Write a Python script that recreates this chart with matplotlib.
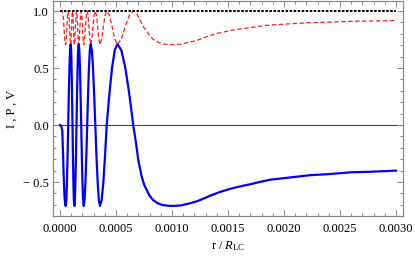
import matplotlib
matplotlib.use("Agg")
import matplotlib.pyplot as plt
from matplotlib.ticker import MultipleLocator, FuncFormatter

plt.rcParams['font.family'] = ['Liberation Serif', 'DejaVu Serif']
plt.rcParams['mathtext.fontset'] = 'custom'
plt.rcParams['mathtext.rm'] = 'Liberation Serif'
plt.rcParams['mathtext.it'] = 'Liberation Serif:italic'
plt.rcParams['lines.scale_dashes'] = False

# r / R_LC (units of 1e-6)
r_e6 = [0, 10, 20.5, 27, 33, 40, 45.5, 50.9, 56.5, 62.1, 67.6, 73.2,
        78.8, 84.4, 89.9, 95.5, 99.5, 103.6, 107.6, 111.6, 115.6, 119.7, 123.7, 127.7,
        132.6, 137.5, 142.4, 147.3, 152.2, 157.1, 162.0, 166.9, 172.5, 178.1, 183.7, 189.3,
        194.9, 200.5, 206.0, 211.6, 219.4, 227.3, 235.1, 242.9, 250.7, 258.5, 266.3, 274.1,
        284.4, 294.7, 304.9, 315.2, 325.7, 336.2, 346.6, 357.1, 372.1, 387.1, 402.0, 417.0,
        440.9, 464.8, 488.6, 512.5, 547.9, 583.3, 618.6, 654,
        679, 699, 729, 750, 774, 800, 833, 870, 908, 960, 1012, 1080, 1146, 1220, 1295,
        1339, 1420, 1518, 1600, 1696, 1780, 1875,
        2054, 2232, 2411, 2589, 2768, 3000]

# circular polarisation V
V = [0, -0.01, -0.05, -0.25, -0.45, -0.62, -0.69, -0.71, -0.656, -0.502, -0.272, 0,
     0.272, 0.502, 0.656, 0.71, 0.656, 0.502, 0.272, 0, -0.272, -0.502, -0.656, -0.71,
     -0.656, -0.502, -0.272, 0, 0.272, 0.502, 0.656, 0.71, 0.656, 0.502, 0.272, 0,
     -0.272, -0.502, -0.656, -0.71, -0.656, -0.502, -0.272, 0, 0.272, 0.502, 0.656, 0.71,
     0.656, 0.502, 0.272, 0, -0.272, -0.502, -0.656, -0.71, -0.656, -0.502, -0.272, 0,
     0.272, 0.502, 0.656, 0.71, 0.656, 0.502, 0.272, 0,
     -0.16, -0.31, -0.45, -0.52, -0.57, -0.62, -0.66, -0.685, -0.70, -0.708, -0.71, -0.705,
     -0.69, -0.67, -0.64, -0.62, -0.59, -0.56, -0.54, -0.52, -0.50, -0.48,
     -0.46, -0.44, -0.43, -0.415, -0.41, -0.40]

# linear polarisation P
P = [1.0, 1.0, 0.999, 0.968, 0.893, 0.785, 0.724, 0.704, 0.755, 0.865, 0.962, 1.0,
     0.962, 0.865, 0.755, 0.704, 0.755, 0.865, 0.962, 1.0, 0.962, 0.865, 0.755, 0.704,
     0.755, 0.865, 0.962, 1.0, 0.962, 0.865, 0.755, 0.704, 0.755, 0.865, 0.962, 1.0,
     0.962, 0.865, 0.755, 0.704, 0.755, 0.865, 0.962, 1.0, 0.962, 0.865, 0.755, 0.704,
     0.755, 0.865, 0.962, 1.0, 0.962, 0.865, 0.755, 0.704, 0.755, 0.865, 0.962, 1.0,
     0.962, 0.865, 0.755, 0.704, 0.755, 0.865, 0.962, 1.0,
     0.987, 0.951, 0.893, 0.854, 0.822, 0.785, 0.751, 0.729, 0.714, 0.706, 0.704, 0.709,
     0.724, 0.742, 0.768, 0.785, 0.807, 0.828, 0.842, 0.854, 0.866, 0.877,
     0.888, 0.898, 0.903, 0.910, 0.912, 0.917]

# total intensity I
r_I = [0.0, 0.003]
I = [1.0, 1.0]

r = [x * 1e-6 for x in r_e6]

fig = plt.figure(figsize=(4.15, 2.59), dpi=100)
ax = fig.add_axes([53 / 415, 43 / 259, 350 / 415, 215 / 259])

ax.axhline(0, color='#444444', lw=0.8, zorder=1)
ax.plot(r, P, color='#ff1a1a', lw=0.9, dashes=(3.2, 1.8), zorder=2)
ax.plot(r, V, color='#0000ff', lw=1.6, zorder=3)
ax.plot(r_I, I, color='black', lw=1.4, dashes=(1.8, 1.1), zorder=4)

ax.set_xlim(-6.25e-5, 3.0625e-3)
ax.set_ylim(-0.798, 1.088)

ax.xaxis.set_major_locator(MultipleLocator(0.0005))
ax.xaxis.set_minor_locator(MultipleLocator(0.0001))
ax.yaxis.set_major_locator(MultipleLocator(0.5))
ax.yaxis.set_minor_locator(MultipleLocator(0.1))
ax.xaxis.set_major_formatter(FuncFormatter(lambda v, p: '%.4f' % abs(v) if abs(v) < 1e-9 else '%.4f' % v))
ax.yaxis.set_major_formatter(FuncFormatter(lambda v, p: ('\u2212 %.1f' % -v) if v < -1e-9 else '%.1f' % abs(v)))

ax.tick_params(which='both', direction='in', top=True, right=True, color='#888888',
               labelsize=9, width=0.7)
ax.tick_params(which='major', length=4)
ax.tick_params(which='minor', length=2.2)
ax.tick_params(axis='x', pad=5)
ax.tick_params(axis='y', pad=3)
for s in ax.spines.values():
    s.set_color('#888888')
    s.set_linewidth(0.9)

ax.set_xlabel(r'r / $R_{\mathrm{LC}}$', fontsize=9, labelpad=3)
ax.set_ylabel('I , P , V', fontsize=9, labelpad=4)

fig.savefig('out.png', dpi=100)
